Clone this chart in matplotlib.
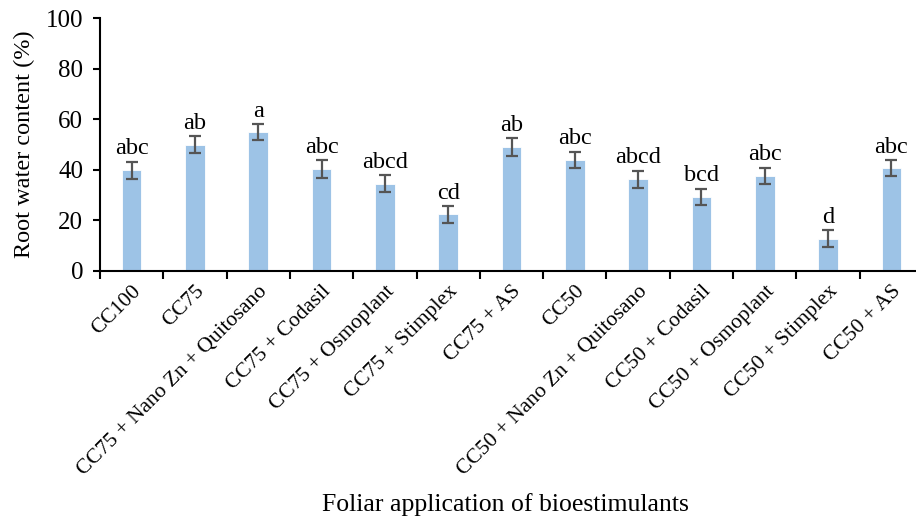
import matplotlib
matplotlib.use("Agg")
import matplotlib.pyplot as plt
import numpy as np

categories = ["CC100", "CC75", "CC75 + Nano Zn + Quitosano", "CC75 + Codasil",
              "CC75 + Osmoplant", "CC75 + Stimplex", "CC75 + AS", "CC50",
              "CC50 + Nano Zn + Quitosano", "CC50 + Codasil", "CC50 + Osmoplant",
              "CC50 + Stimplex", "CC50 + AS"]
values = [39.8, 50.0, 54.8, 40.3, 34.5, 22.3, 49.0, 43.8, 36.2, 29.2, 37.5, 12.6, 40.6]
errors = [3.3, 3.3, 3.2, 3.4, 3.3, 3.3, 3.5, 3.3, 3.3, 3.2, 3.3, 3.4, 3.2]
letters = ["abc", "ab", "a", "abc", "abcd", "cd", "ab", "abc", "abcd", "bcd", "abc", "d", "abc"]

plt.rcParams['font.family'] = ['Liberation Serif', 'DejaVu Serif']

fig = plt.figure(figsize=(9.16, 5.2), dpi=100)
ax = fig.add_axes([100/916, (520-270.7)/520, 823/916, (270.7-18.3)/520])

x = np.arange(len(categories))
ax.bar(x, values, width=0.31, color="#9DC3E6", edgecolor="white", linewidth=0.6, zorder=2)
ax.errorbar(x, values, yerr=errors, fmt="none", ecolor="#555555", elinewidth=1.6,
            capsize=4.5, capthick=1.6, zorder=3)
for xi, v, e, t in zip(x, values, errors, letters):
    ax.text(xi, v + e + 1.0, t, ha="center", va="bottom", fontsize=17.5)

ax.set_xlim(-0.5, len(categories) - 0.5)
ax.set_ylim(0, 100)
ax.set_yticks([0, 20, 40, 60, 80, 100])
ax.tick_params(axis="y", labelsize=18, direction="out", length=5, width=1.5, pad=7)
ax.set_xticks(x)
ax.set_xticklabels(categories, rotation=45, ha="right", rotation_mode="anchor", fontsize=15.5)
ax.tick_params(axis="x", which="major", length=0, pad=8)
ax.set_xticks(np.arange(len(categories) + 1) - 0.5, minor=True)
ax.tick_params(axis="x", which="minor", direction="out", length=6, width=1.5)

for s in ["top", "right"]:
    ax.spines[s].set_visible(False)
ax.spines["left"].set_linewidth(1.5)
ax.spines["bottom"].set_linewidth(1.5)

ax.set_ylabel("Root water content (%)", fontsize=17.5, labelpad=8)
fig.text(505/916, 1 - 505/520, "Foliar application of bioestimulants", ha="center",
         va="center", fontsize=18.5)

fig.savefig("out.png", dpi=100)
